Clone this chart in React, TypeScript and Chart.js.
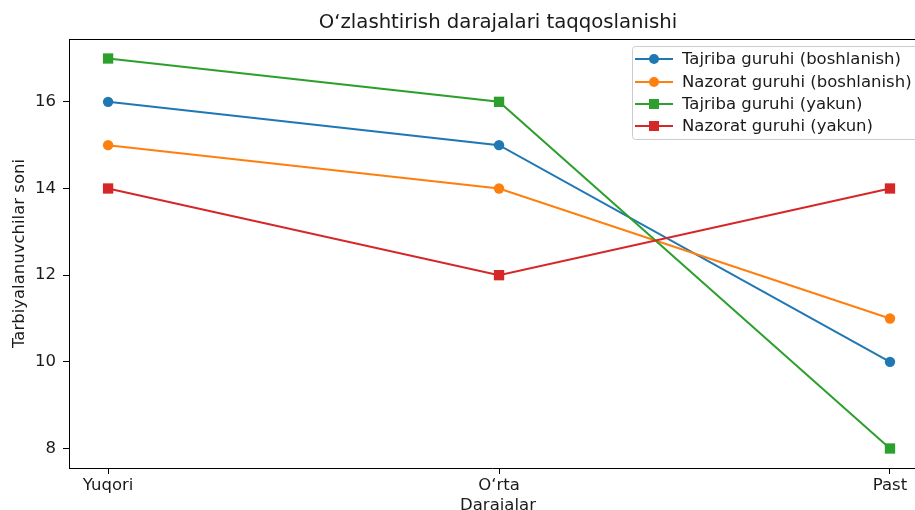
import React, { useEffect, useRef } from "react";
import { Chart, registerables } from "chart.js";

Chart.register(...registerables);

const categories = ["Yuqori", "O‘rta", "Past"];
const seriesLabels = [
  "Tajriba guruhi (boshlanish)",
  "Nazorat guruhi (boshlanish)",
  "Tajriba guruhi (yakun)",
  "Nazorat guruhi (yakun)",
];
const tajribaBoshlanish = [16, 15, 10];
const nazoratBoshlanish = [15, 14, 11];
const tajribaYakun = [17, 16, 8];
const nazoratYakun = [14, 12, 14];
const yTicks = [8, 10, 12, 14, 16];

const titleText = "O‘zlashtirish darajalari taqqoslanishi";
const xTitle = "Darajalar";
const yTitle = "Tarbiyalanuvchilar soni";

const colors = ["#1f77b4", "#ff7f0e", "#2ca02c", "#d62728"];
const markers = ["circle", "circle", "rect", "rect"];
const FONT = "'DejaVu Sans', sans-serif";

const CANVAS_W = 915;
const CANVAS_H = 510;

export default function App() {
  const ref = useRef<HTMLCanvasElement | null>(null);

  useEffect(() => {
    if (!ref.current) return;
    const series = [tajribaBoshlanish, nazoratBoshlanish, tajribaYakun, nazoratYakun];

    const textPlugin = {
      id: "mplText",
      afterDraw(chart: any) {
        const { ctx, chartArea } = chart;
        const a = chartArea;
        ctx.save();
        // top spine
        ctx.strokeStyle = "#000";
        ctx.lineWidth = 1;
        ctx.beginPath();
        ctx.moveTo(a.left, a.top + 0.5);
        ctx.lineTo(a.right, a.top + 0.5);
        ctx.stroke();

        ctx.fillStyle = "#1a1a1a";
        ctx.textAlign = "center";
        ctx.textBaseline = "alphabetic";
        const cx = 498;
        // title
        ctx.font = `19.7px ${FONT}`;
        ctx.fillText(titleText, cx, 28);
        // x title
        ctx.font = `16.5px ${FONT}`;
        ctx.fillText(xTitle, cx, 510);
        // y title
        ctx.save();
        ctx.translate(24, (a.top + a.bottom) / 2);
        ctx.rotate(-Math.PI / 2);
        ctx.fillText(yTitle, 0, 0);
        ctx.restore();

        // legend
        const bx = 632;
        const by = 46;
        const bw = 290;
        const bh = 93;
        ctx.fillStyle = "rgba(255,255,255,0.8)";
        ctx.strokeStyle = "#cccccc";
        ctx.lineWidth = 1;
        ctx.beginPath();
        (ctx as any).roundRect(bx + 0.5, by + 0.5, bw, bh, 3);
        ctx.fill();
        ctx.stroke();
        ctx.font = `16.5px ${FONT}`;
        ctx.textAlign = "left";
        ctx.textBaseline = "middle";
        const rows = [59, 82, 104, 126];
        seriesLabels.forEach((lab, i) => {
          const y = rows[i];
          ctx.strokeStyle = colors[i];
          ctx.lineWidth = 2;
          ctx.beginPath();
          ctx.moveTo(635, y);
          ctx.lineTo(673, y);
          ctx.stroke();
          ctx.fillStyle = colors[i];
          if (markers[i] === "circle") {
            ctx.beginPath();
            ctx.arc(654, y, 5, 0, Math.PI * 2);
            ctx.fill();
          } else {
            ctx.fillRect(649, y - 5, 10, 10);
          }
          ctx.fillStyle = "#1a1a1a";
          ctx.fillText(lab, 682, y + 1);
        });
        ctx.restore();
      },
    };

    const chart = new Chart(ref.current, {
      type: "line",
      data: {
        datasets: series.map((vals, i) => ({
          label: seriesLabels[i],
          data: vals.map((v, j) => ({ x: j, y: v })),
          borderColor: colors[i],
          backgroundColor: colors[i],
          borderWidth: 2,
          pointStyle: markers[i] as any,
          pointRadius: markers[i] === "circle" ? 5.2 : 7.3,
          pointBorderWidth: 0,
          pointBackgroundColor: colors[i],
          tension: 0,
          fill: false,
          clip: false,
          order: 3 - i,
        })),
      },
      options: {
        animation: false,
        responsive: false,
        devicePixelRatio: 1,
        layout: {
          autoPadding: false,
          padding: { top: 39, right: 0, left: 0, bottom: 0 },
        },
        plugins: {
          legend: { display: false },
          title: { display: false },
          tooltip: { enabled: false },
        },
        scales: {
          x: {
            type: "linear",
            min: -0.1,
            max: 2.064,
            afterBuildTicks: (s: any) => {
              s.ticks = categories.map((_, i) => ({ value: i }));
            },
            afterFit: (s: any) => {
              s.height = 42;
              s.paddingLeft = 0;
              s.paddingRight = 0;
            },
            ticks: {
              callback: (v: any) => categories[Math.round(Number(v))] ?? "",
              color: "#1a1a1a",
              font: { family: FONT, size: 16.5 },
              padding: 2,
              maxRotation: 0,
              autoSkip: false,
            },
            grid: {
              display: true,
              drawOnChartArea: false,
              drawTicks: true,
              tickLength: 6,
              color: "#000",
            },
            border: { display: true, color: "#000", width: 1 },
          },
          y: {
            type: "linear",
            min: 7.55,
            max: 17.45,
            afterBuildTicks: (s: any) => {
              s.ticks = yTicks.map((v) => ({ value: v }));
            },
            afterFit: (s: any) => {
              s.width = 69;
              s.paddingTop = 0;
              s.paddingBottom = 0;
            },
            ticks: {
              color: "#1a1a1a",
              font: { family: FONT, size: 16.5 },
              padding: 7,
            },
            grid: {
              display: true,
              drawOnChartArea: false,
              drawTicks: true,
              tickLength: 6,
              color: "#000",
            },
            border: { display: true, color: "#000", width: 1 },
          },
        },
      },
      plugins: [textPlugin],
    } as any);

    return () => chart.destroy();
  }, []);

  return (
    <div
      style={{
        position: "fixed",
        left: 0,
        top: 0,
        width: 915,
        height: 510,
        overflow: "hidden",
        background: "#fff",
      }}
    >
      <canvas
        ref={ref}
        width={CANVAS_W}
        height={CANVAS_H}
        style={{ width: CANVAS_W, height: CANVAS_H, display: "block" }}
      />
    </div>
  );
}
